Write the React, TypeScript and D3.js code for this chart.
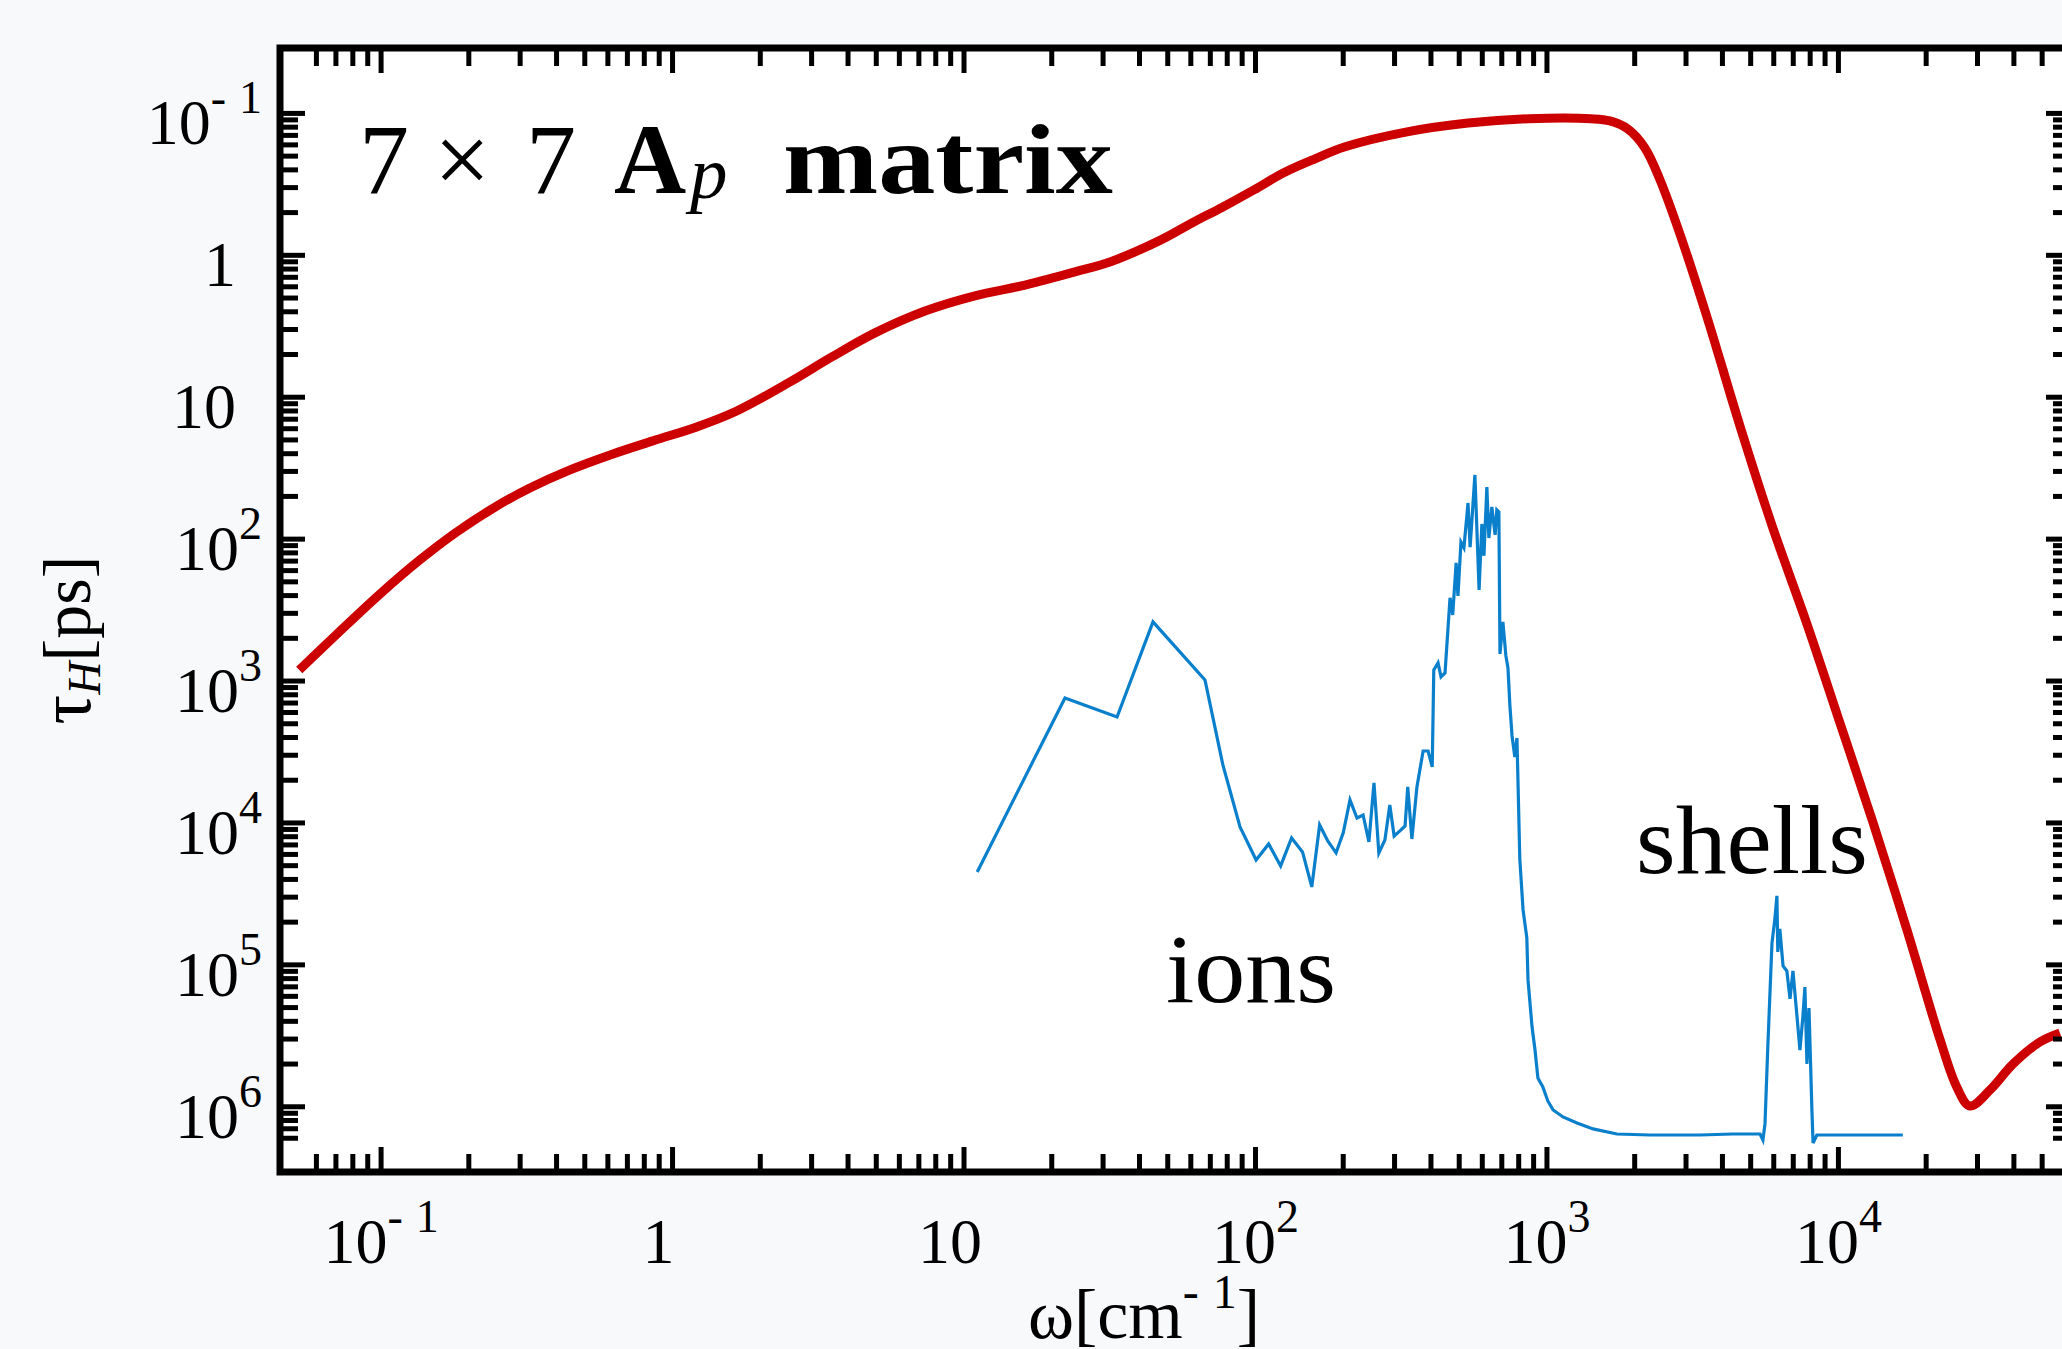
import { useEffect, useRef } from 'react';
import * as d3 from 'd3';

const width = 2062;
const height = 1349;
const box = { left: 280, right: 2071, top: 48, bottom: 1172 };
const serif = '"Liberation Serif", "Times New Roman", serif';

// red curve: omega [cm^-1] and tau_H [ps]
const redOmega = [0.0524, 0.0706, 0.0993, 0.136, 0.182, 0.250, 0.324, 0.445, 0.611, 0.857,
  1.21, 1.66, 2.53, 3.52, 4.95, 7.35, 10.9, 16.2, 24.0, 32.2,
  47.4, 60.5, 77.3, 98.8, 125, 160, 203, 331, 536, 867, 1416,
  1644, 1897, 2168, 2443, 2858, 3540, 4592, 5957, 7798, 10120, 13120,
  17180, 22280, 25470, 28250, 33110, 39720, 49090, 57540];
const redTau = [836, 466, 243, 140, 88.9, 58.3, 43.6, 32.5, 25.5, 20.3,
  16.2, 12.5, 7.80, 5.20, 3.52, 2.47, 1.93, 1.62, 1.31, 1.10,
  0.778, 0.592, 0.456, 0.346, 0.262, 0.209, 0.172, 0.135, 0.117, 0.109, 0.109,
  0.113, 0.129, 0.175, 0.294, 0.706, 2.72, 15.9, 83.4, 396, 1972, 9840,
  56750, 332700, 726100, 988600, 762100, 500000, 349900, 302000];

// blue curve (ions + shells)
const blueOmega = [11.1, 22.2, 33.5, 44.5, 67.1, 77.3, 88.5, 100.5, 111, 122,
  133, 145, 156, 166, 177, 189, 200, 211, 223, 234,
  245, 255, 265, 278, 289, 299, 313, 326, 333, 344,
  358, 376, 391, 404, 409, 423, 433, 447, 465, 475,
  488, 495, 507, 519, 536, 545, 566, 585, 598, 608,
  622, 632, 647, 664, 673, 684, 690, 706, 723, 735,
  746, 759, 776, 789, 807, 828, 853, 861, 889, 910,
  931, 968, 1007, 1050, 1135, 1268, 1439, 1738, 2254, 3350,
  4345, 5383, 5508, 5598, 5728, 5916, 6053, 6152, 6194, 6295,
  6457, 6653, 6823, 6982, 7211, 7379, 7551, 7674, 7798, 7925,
  8110, 8185, 8433, 9572, 12530, 16630];
const blueTau = [22130, 1315, 1791, 383, 982, 3899, 10670, 18240, 14060, 20090,
  12760, 16000, 28250, 10330, 13400, 16260, 11750, 6887, 9226, 8790,
  13610, 5224, 16260, 13180, 7464, 12360, 11380, 10500, 5572, 12970,
  5572, 3112, 3112, 4027, 836, 745, 935, 877, 259, 342,
  147, 251, 105, 115, 55.6, 114, 35.3, 228, 78.2, 131,
  42.9, 98.2, 59.3, 93.3, 62.2, 64.3, 644, 383, 665, 809,
  1472, 2438, 3428, 2518, 17950, 41020, 64570, 127600, 274200, 398100,
  626600, 724400, 909800, 1054000, 1180000, 1300000, 1432000, 1556000, 1581000, 1581000,
  1556000, 1556000, 1714000, 1321000, 366400, 70150, 47530, 32660, 81100, 55850,
  101800, 110400, 173800, 110400, 232800, 398100, 232800, 143200, 498900, 201400,
  1054000, 1799000, 1581000, 1581000, 1581000, 1581000];

const xMajor = [0.1, 1, 10, 100, 1000, 10000];
const xLabelBase = ['10', '1', '10', '10', '10', '10'];
const xLabelExp = ['-1', '', '', '2', '3', '4'];
const yMajor = [0.1, 1, 10, 100, 1e3, 1e4, 1e5, 1e6];
const yLabelBase = ['10', '1', '10', '10', '10', '10', '10', '10'];
const yLabelExp = ['-1', '', '', '2', '3', '4', '5', '6'];

function addPower(text: any, base: string, exp: string, supSize: number, rise: number) {
  text.append('tspan').text(base);
  if (!exp) return;
  if (exp.startsWith('-')) {
    text.append('tspan').attr('dy', -rise).attr('font-size', supSize).text('-');
    text.append('tspan').attr('dx', supSize * 0.28).attr('font-size', supSize).text(exp.slice(1));
  } else {
    text.append('tspan').attr('dy', -rise).attr('font-size', supSize).text(exp);
  }
}

export default function App() {
  const ref = useRef<SVGSVGElement>(null);

  useEffect(() => {
    const svg = d3.select(ref.current);
    svg.selectAll('*').remove();

    const x = d3.scaleLog().domain([0.045, 62800]).range([box.left, box.right]);
    // the axis runs on 1/tau, which puts the minor ticks where the original has them
    const y = d3.scaleLog().domain([3.47e-7, 28.9]).range([box.bottom, box.top]);

    svg.append('rect').attr('width', width).attr('height', height).attr('fill', '#f8f9fb');
    svg.append('rect')
      .attr('x', box.left).attr('y', box.top)
      .attr('width', box.right - box.left).attr('height', box.bottom - box.top)
      .attr('fill', '#ffffff');

    svg.append('clipPath').attr('id', 'plot-clip')
      .append('rect')
      .attr('x', box.left).attr('y', box.top)
      .attr('width', box.right - box.left).attr('height', box.bottom - box.top);

    const plot = svg.append('g').attr('clip-path', 'url(#plot-clip)');

    const blueLine = d3.line<number>()
      .x(i => x(blueOmega[i]))
      .y(i => y(1 / blueTau[i]));
    plot.append('path')
      .attr('d', blueLine(d3.range(blueOmega.length)))
      .attr('fill', 'none')
      .attr('stroke', '#0a7fcc')
      .attr('stroke-width', 3.2);

    const redLine = d3.line<number>()
      .x(i => x(redOmega[i]))
      .y(i => y(1 / redTau[i]))
      .curve(d3.curveCatmullRom.alpha(0.5));
    plot.append('path')
      .attr('d', redLine(d3.range(redOmega.length)))
      .attr('fill', 'none')
      .attr('stroke', '#cc0000')
      .attr('stroke-width', 9);

    const isMajor = (v: number) => Math.abs(Math.log10(v) - Math.round(Math.log10(v))) < 1e-6;
    const xt = x.ticks().filter(v => x(v) - box.left >= 26 && box.right - x(v) >= 26);
    const yt = y.ticks().filter(v => box.bottom - y(v) >= 26 && y(v) - box.top >= 26);

    const ticks = svg.append('g').attr('stroke', '#000').attr('stroke-width', 5);
    for (const v of xt) {
      const len = isMajor(v) ? 25 : 18;
      ticks.append('line').attr('x1', x(v)).attr('x2', x(v)).attr('y1', box.bottom).attr('y2', box.bottom - len);
      ticks.append('line').attr('x1', x(v)).attr('x2', x(v)).attr('y1', box.top).attr('y2', box.top + len);
    }
    for (const v of yt) {
      const len = isMajor(v) ? 25 : 18;
      ticks.append('line').attr('y1', y(v)).attr('y2', y(v)).attr('x1', box.left).attr('x2', box.left + len);
      ticks.append('line').attr('y1', y(v)).attr('y2', y(v)).attr('x1', box.right).attr('x2', box.right - len);
    }

    svg.append('rect')
      .attr('x', box.left).attr('y', box.top)
      .attr('width', box.right - box.left).attr('height', box.bottom - box.top)
      .attr('fill', 'none').attr('stroke', '#000').attr('stroke-width', 7);

    // tick labels
    xMajor.forEach((v, i) => {
      const t = svg.append('text')
        .attr('font-family', serif).attr('font-size', 64)
        .attr('text-anchor', 'middle')
        .attr('x', x(v) + (xLabelExp[i] ? 0 : -14))
        .attr('y', 1263);
      addPower(t, xLabelBase[i], xLabelExp[i], 46, 31);
    });
    yMajor.forEach((tau, i) => {
      const t = svg.append('text')
        .attr('font-family', serif).attr('font-size', 64)
        .attr('text-anchor', 'end')
        .attr('x', yLabelExp[i] ? 262 : 236)
        .attr('y', y(1 / tau) + 31);
      addPower(t, yLabelBase[i], yLabelExp[i], 46, 31);
    });

    // axis titles
    const xTitle = svg.append('text')
      .attr('font-family', serif).attr('font-size', 70)
      .attr('text-anchor', 'middle')
      .attr('x', 1144).attr('y', 1338);
    xTitle.append('tspan').text('ω[cm');
    xTitle.append('tspan').attr('dy', -30).attr('font-size', 48).text('-');
    xTitle.append('tspan').attr('dx', 14).attr('font-size', 48).text('1');
    xTitle.append('tspan').attr('dy', 30).text(']');

    const yTitle = svg.append('text')
      .attr('font-family', serif).attr('font-size', 68)
      .attr('text-anchor', 'middle')
      .attr('transform', 'translate(90,640) rotate(-90)');
    yTitle.append('tspan').attr('font-size', 74).text('τ');
    yTitle.append('tspan').attr('font-style', 'italic').attr('font-size', 46).attr('dy', 10).text('H');
    yTitle.append('tspan').attr('dy', -10).text('[ps]');

    // in-plot title and annotations
    const title = svg.append('text')
      .attr('font-family', serif).attr('font-size', 100).attr('y', 193);
    title.append('tspan').attr('x', 359).text('7');
    title.append('tspan').attr('x', 434).text('×');
    title.append('tspan').attr('x', 526).text('7');
    title.append('tspan').attr('x', 614).attr('font-weight', 'bold').text('A');
    title.append('tspan').attr('x', 690).attr('y', 198)
      .attr('font-style', 'italic').attr('font-size', 75).text('p');
    svg.append('text')
      .attr('font-family', serif).attr('font-size', 100).attr('font-weight', 'bold')
      .attr('x', 783).attr('y', 193)
      .attr('textLength', 330).attr('lengthAdjust', 'spacingAndGlyphs')
      .text('matrix');

    svg.append('text')
      .attr('font-family', serif).attr('font-size', 98)
      .attr('x', 1166).attr('y', 1002)
      .attr('textLength', 170).attr('lengthAdjust', 'spacingAndGlyphs')
      .text('ions');
    svg.append('text')
      .attr('font-family', serif).attr('font-size', 98)
      .attr('x', 1636).attr('y', 873)
      .attr('textLength', 232).attr('lengthAdjust', 'spacingAndGlyphs')
      .text('shells');
  }, []);

  return (
    <svg
      ref={ref}
      width={width}
      height={height}
      style={{ position: 'absolute', left: 0, top: 0, display: 'block' }}
    />
  );
}
